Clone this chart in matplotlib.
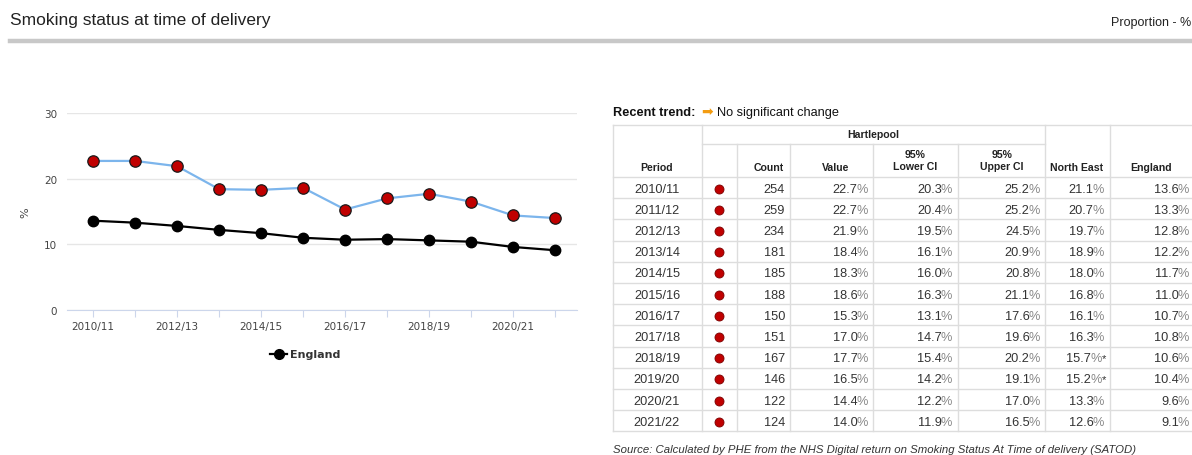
import matplotlib
matplotlib.use("Agg")
import matplotlib.pyplot as plt
from matplotlib.lines import Line2D

periods = ["2010/11", "2011/12", "2012/13", "2013/14", "2014/15", "2015/16",
           "2016/17", "2017/18", "2018/19", "2019/20", "2020/21", "2021/22"]
counts = [254, 259, 234, 181, 185, 188, 150, 151, 167, 146, 122, 124]
hartlepool = [22.7, 22.7, 21.9, 18.4, 18.3, 18.6, 15.3, 17.0, 17.7, 16.5, 14.4, 14.0]
lower_ci = [20.3, 20.4, 19.5, 16.1, 16.0, 16.3, 13.1, 14.7, 15.4, 14.2, 12.2, 11.9]
upper_ci = [25.2, 25.2, 24.5, 20.9, 20.8, 21.1, 17.6, 19.6, 20.2, 19.1, 17.0, 16.5]
north_east = [21.1, 20.7, 19.7, 18.9, 18.0, 16.8, 16.1, 16.3, 15.7, 15.2, 13.3, 12.6]
north_east_flag = ["", "", "", "", "", "", "", "", "*", "*", "", ""]
england = [13.6, 13.3, 12.8, 12.2, 11.7, 11.0, 10.7, 10.8, 10.6, 10.4, 9.6, 9.1]
y_ticks = [0, 10, 20, 30]

W, H = 1192, 456
fig = plt.figure(figsize=(W / 100, H / 100), dpi=100)
plt.rcParams['font.family'] = ['Liberation Sans', 'DejaVu Sans']


def fx(x):
    return x / W


def fy(y):
    return 1 - y / H


# Title and header
fig.text(fx(10), fy(20), "Smoking status at time of delivery", fontsize=12.5,
         color="#222222", va="center", ha="left")
fig.text(fx(1191), fy(23), "Proportion - %", fontsize=9,
         color="#222222", va="center", ha="right")
fig.add_artist(Line2D([fx(10), fx(1192)], [fy(42), fy(42)], color="#c8c8c8",
                      linewidth=3.2, transform=fig.transFigure))

# Chart
ax = fig.add_axes([fx(67), fy(311), fx(577) - fx(67), fy(114) - fy(311)])
x = list(range(len(periods)))
ax.plot(x, hartlepool, color="#7cb5ec", linewidth=1.6, zorder=2)
ax.plot(x, hartlepool, linestyle="none", marker="o", markersize=8.2,
        markerfacecolor="#c00000", markeredgecolor="#1a1a1a",
        markeredgewidth=0.9, zorder=3)
ax.plot(x, england, color="black", linewidth=1.6, marker="o", markersize=7.5,
        markerfacecolor="black", markeredgecolor="black", zorder=3)
ax.set_ylim(0, 30)
ax.set_xlim(-0.62, 11.52)
ax.set_yticks(y_ticks)
ax.set_yticklabels([str(v) for v in y_ticks], fontsize=7.5, color="#444444",
                   family="DejaVu Sans")
ax.set_xticks(x)
ax.set_xticklabels([p if i % 2 == 0 else "" for i, p in enumerate(periods)],
                   fontsize=7.5, color="#444444", family="DejaVu Sans")
ax.tick_params(axis="y", length=0, pad=7)
ax.tick_params(axis="x", length=5, color="#ccd6eb", pad=3)
ax.grid(axis="y", color="#e6e6e6", linewidth=1)
ax.set_axisbelow(True)
for s in ["top", "right", "left"]:
    ax.spines[s].set_visible(False)
ax.spines["bottom"].set_color("#ccd6eb")
ax.spines["bottom"].set_zorder(1)
ax.set_ylabel("%", fontsize=8, color="#444444", family="DejaVu Sans")
ax.yaxis.set_label_coords((30 - 67) / 510, 0.5)

# Legend
fig.add_artist(Line2D([fx(270), fx(287)], [fy(355), fy(355)], color="black",
                      linewidth=1.6, transform=fig.transFigure))
fig.add_artist(Line2D([fx(278.5)], [fy(355)], color="black", marker="o",
                      markersize=7, transform=fig.transFigure))
fig.text(fx(290), fy(355), "England", fontsize=8, fontweight="bold",
         color="#333333", va="center", ha="left", family="DejaVu Sans")

# Recent trend
fig.text(fx(613), fy(113), "Recent trend:", fontsize=9.2, fontweight="bold",
         color="#111111", va="center", ha="left")
fig.text(fx(707), fy(112), "\u27a1", fontsize=10, color="#f39c12", va="center",
         ha="center", family="DejaVu Sans")
fig.text(fx(717), fy(113), "No significant change", fontsize=9.2,
         color="#111111", va="center", ha="left")

# Table
line_c = "#dddddd"
vx = [613, 702, 737, 790, 873, 958, 1045, 1110]
top_y, mid_y, head_bot, row_h = 126, 145, 178, 21.2
n = len(periods)
bot_y = head_bot + n * row_h


def hline(x0, x1, y):
    fig.add_artist(Line2D([fx(x0), fx(x1)], [fy(y), fy(y)], color=line_c,
                          linewidth=1, transform=fig.transFigure))


def vline(x, y0, y1):
    fig.add_artist(Line2D([fx(x), fx(x)], [fy(y0), fy(y1)], color=line_c,
                          linewidth=1, transform=fig.transFigure))


hline(613, 1192, top_y)
hline(702, 1045, mid_y)
for i in range(n + 1):
    hline(613, 1192, head_bot + i * row_h)
for xv in vx:
    if xv in (702, 1045, 1110, 613):
        vline(xv, top_y, bot_y)
    else:
        vline(xv, mid_y, bot_y)

hfs = 7.6
hc = "#222222"
fig.text(fx((702 + 1045) / 2), fy(135), "Hartlepool", fontsize=hfs,
         fontweight="bold", ha="center", va="center", color=hc)
fig.text(fx(657), fy(168), "Period", fontsize=hfs, fontweight="bold",
         ha="center", va="center", color=hc)
fig.text(fx(769), fy(168), "Count", fontsize=hfs, fontweight="bold",
         ha="center", va="center", color=hc)
fig.text(fx(836), fy(168), "Value", fontsize=hfs, fontweight="bold",
         ha="center", va="center", color=hc)
fig.text(fx(915), fy(161), "95%\nLower CI", fontsize=hfs, fontweight="bold",
         ha="center", va="center", color=hc, linespacing=1.35)
fig.text(fx(1002), fy(161), "95%\nUpper CI", fontsize=hfs, fontweight="bold",
         ha="center", va="center", color=hc, linespacing=1.35)
fig.text(fx(1077), fy(168), "North East", fontsize=hfs, fontweight="bold",
         ha="center", va="center", color=hc)
fig.text(fx(1151), fy(168), "England", fontsize=hfs, fontweight="bold",
         ha="center", va="center", color=hc)

fs = 9.2
num_c = "#333333"
pct_c = "#888888"


def pct(xr, y, val, flag=""):
    if flag:
        fig.text(fx(xr), fy(y), flag, fontsize=fs - 1, color=num_c,
                 ha="right", va="center")
        xr -= 4.5
    fig.text(fx(xr), fy(y), "%", fontsize=fs, color=pct_c,
             ha="right", va="center")
    fig.text(fx(xr - 10.3), fy(y), f"{val:.1f}", fontsize=fs, color=num_c,
             ha="right", va="center")


for i in range(n):
    yc = head_bot + (i + 0.5) * row_h + 1
    fig.text(fx(657), fy(yc), periods[i], fontsize=fs, color=num_c,
             ha="center", va="center")
    fig.add_artist(Line2D([fx(719)], [fy(yc)], marker="o", markersize=6.5,
                          markerfacecolor="#c00000", markeredgecolor="#7a0000",
                          markeredgewidth=0.6, transform=fig.transFigure))
    fig.text(fx(785), fy(yc), str(counts[i]), fontsize=fs, color=num_c,
             ha="right", va="center")
    pct(868, yc, hartlepool[i])
    pct(952, yc, lower_ci[i])
    pct(1040, yc, upper_ci[i])
    pct(1106 if north_east_flag[i] else 1104, yc, north_east[i], north_east_flag[i])
    pct(1189, yc, england[i])

fig.text(fx(613), fy(450), "Source: Calculated by PHE from the NHS Digital return on "
         "Smoking Status At Time of delivery (SATOD)", fontsize=8.2,
         style="italic", color="#333333", ha="left", va="center")

fig.savefig("out.png", dpi=100)
